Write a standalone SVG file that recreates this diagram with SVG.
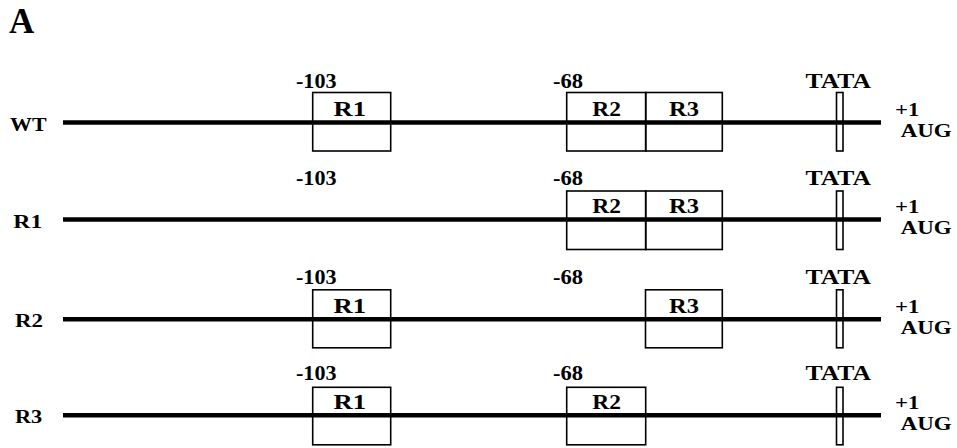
<svg xmlns="http://www.w3.org/2000/svg" width="957" height="448" viewBox="0 0 957 448">
  <style>
    text { font-family: "Liberation Serif", "Times New Roman", serif; font-weight: bold; fill: #000; }
    .lbl { font-size: 20px; }
    .row { font-size: 19px; }
    .plus { font-size: 18px; }
    .aug { font-size: 19px; }
    .box { fill: none; stroke: #000; stroke-width: 1.6; }
    .dna { stroke: #000; stroke-width: 4.5; }
  </style>
  <rect width="957" height="448" fill="#fff"/>

  <text x="9" y="33" style="font-size:35px">A</text>

  <!-- WT construct: R1, R2, R3 all present -->
  <g id="wt" transform="translate(0,122.5)">
    <text class="row" x="10" y="8" textLength="36.5" lengthAdjust="spacingAndGlyphs">WT</text>
    <text class="lbl" x="296" y="-35" textLength="40.5" lengthAdjust="spacingAndGlyphs">-103</text>
    <text class="lbl" x="553" y="-35" textLength="30" lengthAdjust="spacingAndGlyphs">-68</text>
    <text class="lbl" x="805.5" y="-35" textLength="65.5" lengthAdjust="spacingAndGlyphs">TATA</text>
    <g id="wt-r1"><rect class="box" x="312.7" y="-30" width="78" height="58.5"/><text class="lbl" x="333.5" y="-6.5" textLength="32.5" lengthAdjust="spacingAndGlyphs">R1</text></g>
    <g id="wt-r2"><rect class="box" x="566.7" y="-30" width="79" height="58.5"/><text class="lbl" x="592.3" y="-6.5" textLength="28.7" lengthAdjust="spacingAndGlyphs">R2</text></g>
    <g id="wt-r3"><rect class="box" x="645.7" y="-30" width="76.6" height="58.5"/><text class="lbl" x="669" y="-6.5" textLength="30" lengthAdjust="spacingAndGlyphs">R3</text></g>
    <g id="wt-tata"><rect class="box" x="836.5" y="-30" width="6.5" height="58.5"/></g>
    <line class="dna" x1="63" y1="0" x2="881" y2="0"/>
    <text class="plus" x="895" y="-6.5" textLength="24.3" lengthAdjust="spacingAndGlyphs">+1</text>
    <text class="aug" x="900.7" y="14.5" textLength="51" lengthAdjust="spacingAndGlyphs">AUG</text>
  </g>

  <!-- R1 deletion construct -->
  <g id="r1" transform="translate(0,219.5)">
    <text class="row" x="13.3" y="8" textLength="29" lengthAdjust="spacingAndGlyphs">R1</text>
    <text class="lbl" x="296" y="-35" textLength="40.5" lengthAdjust="spacingAndGlyphs">-103</text>
    <text class="lbl" x="553" y="-35" textLength="30" lengthAdjust="spacingAndGlyphs">-68</text>
    <text class="lbl" x="805.5" y="-35" textLength="65.5" lengthAdjust="spacingAndGlyphs">TATA</text>
    <g id="r1-r2"><rect class="box" x="566.7" y="-28.5" width="79" height="58.5"/><text class="lbl" x="592.3" y="-6.5" textLength="28.7" lengthAdjust="spacingAndGlyphs">R2</text></g>
    <g id="r1-r3"><rect class="box" x="645.7" y="-28.5" width="76.6" height="58.5"/><text class="lbl" x="669" y="-6.5" textLength="30" lengthAdjust="spacingAndGlyphs">R3</text></g>
    <g id="r1-tata"><rect class="box" x="836.5" y="-28.5" width="6.5" height="58.5"/></g>
    <line class="dna" x1="63" y1="0" x2="881" y2="0"/>
    <text class="plus" x="895" y="-6.5" textLength="24.3" lengthAdjust="spacingAndGlyphs">+1</text>
    <text class="aug" x="900.7" y="14.5" textLength="51" lengthAdjust="spacingAndGlyphs">AUG</text>
  </g>

  <!-- R2 deletion construct -->
  <g id="r2" transform="translate(0,319.3)">
    <text class="row" x="15" y="8" textLength="28" lengthAdjust="spacingAndGlyphs">R2</text>
    <text class="lbl" x="296" y="-35" textLength="40.5" lengthAdjust="spacingAndGlyphs">-103</text>
    <text class="lbl" x="553" y="-35" textLength="30" lengthAdjust="spacingAndGlyphs">-68</text>
    <text class="lbl" x="805.5" y="-35" textLength="65.5" lengthAdjust="spacingAndGlyphs">TATA</text>
    <g id="r2-r1"><rect class="box" x="312.7" y="-29.5" width="78" height="58"/><text class="lbl" x="333.5" y="-6.5" textLength="32.5" lengthAdjust="spacingAndGlyphs">R1</text></g>
    <g id="r2-r3"><rect class="box" x="645.5" y="-29.5" width="76.8" height="58"/><text class="lbl" x="669" y="-6.5" textLength="30" lengthAdjust="spacingAndGlyphs">R3</text></g>
    <g id="r2-tata"><rect class="box" x="836.5" y="-29.5" width="6.5" height="58"/></g>
    <line class="dna" x1="63" y1="0" x2="881" y2="0"/>
    <text class="plus" x="895" y="-6.5" textLength="24.3" lengthAdjust="spacingAndGlyphs">+1</text>
    <text class="aug" x="900.7" y="14.5" textLength="51" lengthAdjust="spacingAndGlyphs">AUG</text>
  </g>

  <!-- R3 deletion construct -->
  <g id="r3" transform="translate(0,415.3)">
    <text class="row" x="15" y="8" textLength="27.3" lengthAdjust="spacingAndGlyphs">R3</text>
    <text class="lbl" x="296" y="-35" textLength="40.5" lengthAdjust="spacingAndGlyphs">-103</text>
    <text class="lbl" x="553" y="-35" textLength="30" lengthAdjust="spacingAndGlyphs">-68</text>
    <text class="lbl" x="805.5" y="-35" textLength="65.5" lengthAdjust="spacingAndGlyphs">TATA</text>
    <g id="r3-r1"><rect class="box" x="312.7" y="-28" width="78" height="57.5"/><text class="lbl" x="333.5" y="-6.5" textLength="32.5" lengthAdjust="spacingAndGlyphs">R1</text></g>
    <g id="r3-r2"><rect class="box" x="566.7" y="-28" width="79" height="57.5"/><text class="lbl" x="592.3" y="-6.5" textLength="28.7" lengthAdjust="spacingAndGlyphs">R2</text></g>
    <g id="r3-tata"><rect class="box" x="836.5" y="-28" width="6.5" height="57.5"/></g>
    <line class="dna" x1="63" y1="0" x2="881" y2="0"/>
    <text class="plus" x="895" y="-6.5" textLength="24.3" lengthAdjust="spacingAndGlyphs">+1</text>
    <text class="aug" x="900.7" y="14.5" textLength="51" lengthAdjust="spacingAndGlyphs">AUG</text>
  </g>
</svg>
